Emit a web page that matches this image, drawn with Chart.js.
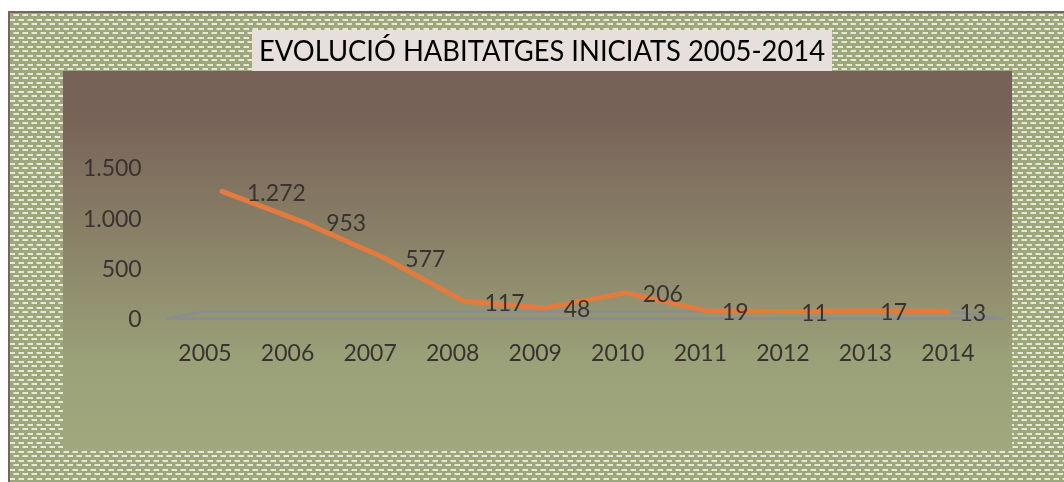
<!DOCTYPE html>
<html>
<head>
<meta charset="utf-8">
<script src="https://cdn.jsdelivr.net/npm/chart.js@4"></script>
<style>
html,body{margin:0;padding:0;background:#fff;}
#wrap{position:relative;width:1064px;height:482px;}
</style>
</head>
<body>
<div id="wrap"><canvas id="c" width="1064" height="482"></canvas></div>
<script>
const chartTitle = 'EVOLUCIÓ HABITATGES INICIATS 2005-2014';
const years = ['2005','2006','2007','2008','2009','2010','2011','2012','2013','2014'];
const habitatges = [1272, 953, 577, 117, 48, 206, 19, 11, 17, 13];
const yTicks = [0, 500, 1000, 1500];

const FONT = 'Lato, "Open Sans", sans-serif';
const TEXT = '#3a3230';

function makePattern(ctx){
  const t = document.createElement('canvas');
  t.width = 9; t.height = 9;
  const g = t.getContext('2d');
  g.fillStyle = '#9ea67b'; g.fillRect(0,0,9,9);
  g.fillStyle = '#e6e9d8';
  g.fillRect(1,1,5,2);
  g.fillRect(5,5,5,2); g.fillRect(-4,5,5,2);
  g.fillStyle = '#c3c8a6';
  g.fillRect(0,1,1,2); g.fillRect(4,5,1,2);
  return ctx.createPattern(t,'repeat');
}

const decor = {
  id:'decor',
  beforeDraw(chart){
    const ctx = chart.ctx;
    ctx.save();
    ctx.fillStyle = '#ffffff';
    ctx.fillRect(0,0,1064,482);
    ctx.fillStyle = makePattern(ctx);
    ctx.fillRect(9,11,1055,471);
    ctx.fillStyle = '#7a6358';
    ctx.fillRect(8,11,1056,2);
    ctx.fillRect(8,11,2,471);
    const gr = ctx.createLinearGradient(0,71,0,451);
    gr.addColorStop(0,'#776157');
    gr.addColorStop(0.12,'#786358');
    gr.addColorStop(0.45,'#8a8268');
    gr.addColorStop(0.75,'#9aa078');
    gr.addColorStop(1,'#a2a87d');
    ctx.fillStyle = gr;
    ctx.fillRect(63,71,949,380);
    ctx.fillStyle = '#e6dfdc';
    ctx.fillRect(252,30,580,41);
    ctx.fillStyle = '#000';
    ctx.font = '29px ' + FONT;
    ctx.textAlign = 'center';
    ctx.textBaseline = 'middle';
    const w = ctx.measureText(chartTitle).width;
    const target = 566;
    ctx.translate(542,52);
    ctx.scale(target/w,1);
    ctx.fillText(chartTitle,0,0);
    ctx.restore();

    const xs = chart.scales.x, ys = chart.scales.y;
    const y0 = ys.getPixelForValue(0);
    const left = xs.left, right = xs.right;
    ctx.save();
    ctx.strokeStyle = '#8a8c8e';
    ctx.lineWidth = 2.5;
    ctx.lineJoin = 'round';
    ctx.beginPath();
    ctx.moveTo(left+3, y0-1);
    ctx.lineTo(left+40, y0-8);
    ctx.lineTo(right-40, y0-8);
    ctx.lineTo(right+13, y0-1);
    ctx.closePath();
    ctx.stroke();
    ctx.restore();
  }
};

const labelsPlugin = {
  id:'vlabels',
  afterDatasetsDraw(chart){
    const ctx = chart.ctx;
    const meta = chart.getDatasetMeta(0);
    ctx.save();
    ctx.font = '23px ' + FONT;
    ctx.fillStyle = TEXT;
    ctx.textAlign = 'left';
    ctx.textBaseline = 'middle';
    meta.data.forEach((pt,i)=>{
      const v = habitatges[i];
      const txt = v.toLocaleString('de-DE');
      const dx = 25 - 1.5*i;
      ctx.fillText(txt, pt.x+dx, pt.y+2);
    });
    ctx.restore();
  }
};

new Chart(document.getElementById('c'), {
  type:'line',
  data:{
    labels: years,
    datasets:[{
      data: habitatges.map((v,i)=>({x:i, y:v})),
      xAxisID:'x2',
      yAxisID:'y2',
      borderColor:'#e37b3f',
      borderWidth:5,
      pointRadius:0,
      borderCapStyle:'round',
      borderJoinStyle:'round',
      tension:0,
      fill:false
    }]
  },
  options:{
    responsive:false,
    animation:false,
    devicePixelRatio:1,
    layout:{padding:{left:0,right:74.7,top:169,bottom:95}},
    plugins:{legend:{display:false},tooltip:{enabled:false},title:{display:false}},
    scales:{
      x:{
        type:'category',
        offset:true,
        grid:{display:false,drawTicks:false},
        border:{display:false},
        ticks:{color:TEXT,font:{family:FONT,size:23},padding:20,maxRotation:0}
      },
      x2:{
        type:'linear', display:false, min:-0.723, max:9.512
      },
      y:{
        min:0,max:1500,
        afterFit(a){a.width = 163.7;},
        afterBuildTicks(a){a.ticks = yTicks.map(v=>({value:v}));},
        grid:{display:false,drawTicks:false},
        border:{display:false},
        ticks:{color:TEXT,font:{family:FONT,size:23},padding:22,
          callback:(v)=>Number(v).toLocaleString('de-DE')}
      },
      y2:{
        type:'linear', display:false, min:-73, max:1508
      }
    }
  },
  plugins:[decor,labelsPlugin]
});
</script>
</body>
</html>
